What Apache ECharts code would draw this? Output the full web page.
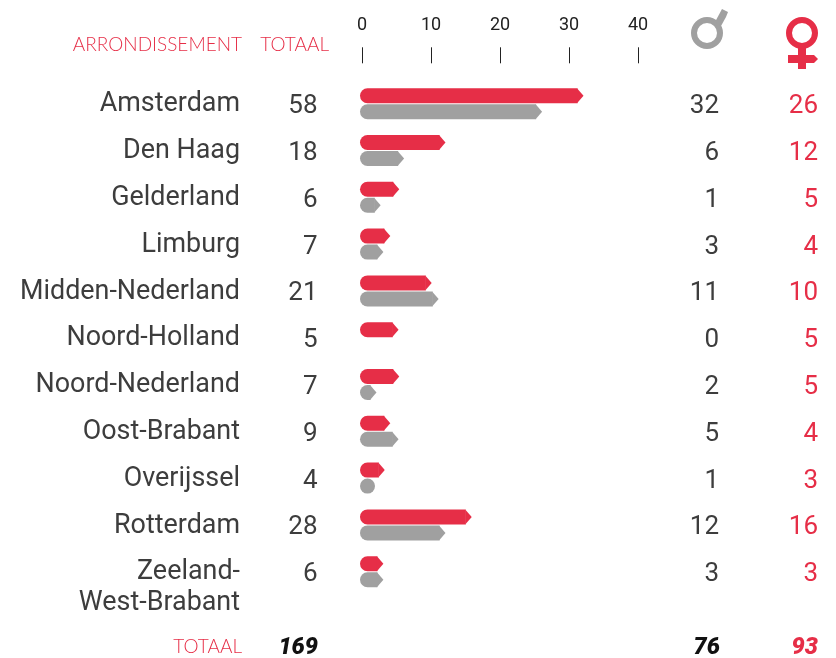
<!DOCTYPE html>
<html>
<head>
<meta charset="utf-8">
<style>html,body{margin:0;padding:0;background:#fff}#chart{width:836px;height:658px}</style>
<script src="https://cdn.jsdelivr.net/npm/echarts@6/dist/echarts.min.js"></script>
</head>
<body>
<div id="chart"></div>
<script>
const districts = ['Amsterdam', 'Den Haag', 'Gelderland', 'Limburg', 'Midden-Nederland', 'Noord-Holland',
  'Noord-Nederland', 'Oost-Brabant', 'Overijssel', 'Rotterdam', 'Zeeland-\nWest-Brabant'];
const totals = [58, 18, 6, 7, 21, 5, 7, 9, 4, 28, 6];
const men = [32, 6, 1, 3, 11, 0, 2, 5, 1, 12, 3];
const women = [26, 12, 5, 4, 10, 5, 5, 4, 3, 16, 3];
// bar lengths as drawn in the picture (Amsterdam is swapped there, small bars read long)
const redBars = [32, 12, 5.3, 4, 10, 5.2, 5.3, 4, 3.2, 15.8, 3];
const grayBars = [26, 6, 2.6, 3, 11, 0, 2, 5.2, 1.9, 12, 3];
const xTicks = [0, 10, 20, 30, 40];
const totalRow = {label: 'TOTAAL', total: 169, men: 76, women: 93};

const RED = '#e62e47';
const GRAY = '#a0a0a0';
const TEXT = '#3d3d3d';
const FONT = 'Roboto';

let chart = echarts.init(document.getElementById('chart'), null, {renderer: 'canvas'});

function arrowBar(values, color, side) {
  return {
    type: 'custom',
    xAxisIndex: 0,
    yAxisIndex: 0,
    silent: true,
    data: values.map((v, i) => [v, i]),
    renderItem(params, api) {
      let v = api.value(0);
      if (!v) return null;
      let tip = api.coord([v, api.value(1)]);
      let start = api.coord([0, api.value(1)])[0] - 2;
      let h = 15;
      let top = side < 0 ? tip[1] - h - 0.5 : tip[1] + 0.5;
      let tipLen = 6;
      let end = tip[0] + 0.7;
      // too short for an arrow head: the picture draws a plain dot
      if (end - start <= h + 1) {
        return {
          type: 'circle',
          shape: {cx: start + h / 2, cy: top + h / 2, r: h / 2},
          style: {fill: color}
        };
      }
      return {
        type: 'group',
        children: [{
          type: 'rect',
          shape: {x: start, y: top, width: end - tipLen - start, height: h, r: [7.5, 0, 0, 7.5]},
          style: {fill: color}
        }, {
          type: 'polygon',
          shape: {points: [[end - tipLen - 0.5, top], [end, top + h / 2], [end - tipLen - 0.5, top + h]]},
          style: {fill: color}
        }]
      };
    }
  };
}

function columnAxis(data, position, offset, color) {
  return {
    type: 'category',
    gridIndex: 2,
    inverse: true,
    position: position,
    offset: offset,
    data: data.map(String),
    axisLine: {show: false},
    axisTick: {show: false},
    axisLabel: {interval: 0, margin: 0, fontFamily: FONT, fontSize: 26, color: color, align: 'right'}
  };
}

function hiddenX(gridIndex) {
  return {type: 'value', gridIndex: gridIndex, show: false, min: 0, max: 40};
}

function cornerText(text, right, y, opt) {
  return {
    type: 'text',
    style: Object.assign({
      text: text,
      x: right,
      y: y,
      align: 'right',
      verticalAlign: 'middle',
      fill: RED,
      fontFamily: 'Lato',
      fontWeight: 300,
      fontSize: 19
    }, opt || {})
  };
}

const boldNum = {fontFamily: FONT, fontWeight: 900, fontStyle: 'italic', fontSize: 23.5};

chart.setOption({
  animation: false,
  backgroundColor: '#fff',
  // same rows in each grid, the text columns just sit a little lower than the bars
  grid: [
    {left: 362, width: 276, top: 80.3, height: 514.8},
    {left: 362, width: 276, top: 81.3, height: 514.8},
    {left: 362, width: 276, top: 83.3, height: 514.8}
  ],
  xAxis: [{
    type: 'value',
    position: 'top',
    min: xTicks[0],
    max: xTicks[xTicks.length - 1],
    interval: 10,
    offset: 17,
    splitLine: {show: false},
    axisLine: {show: false},
    axisTick: {show: true, length: 16, lineStyle: {color: '#222', width: 1}},
    axisLabel: {margin: 29, fontFamily: FONT, fontSize: 18, color: '#222'}
  }, hiddenX(1), hiddenX(2)],
  yAxis: [
    {
      type: 'category',
      inverse: true,
      data: districts,
      show: false
    },
    {
      type: 'category',
      gridIndex: 1,
      inverse: true,
      position: 'left',
      offset: 122,
      data: districts,
      axisLine: {show: false},
      axisTick: {show: false},
      axisLabel: {
        interval: 0,
        margin: 0,
        fontFamily: FONT,
        fontSize: 26.9,
        lineHeight: 31,
        color: TEXT,
        align: 'right',
        // the two line name starts on the row and runs downwards
        formatter: v => v.indexOf('\n') >= 0 ? '\n' + v : v
      }
    },
    columnAxis(totals, 'left', 44.5, TEXT),
    columnAxis(men, 'right', 81, TEXT),
    columnAxis(women, 'right', 180, RED)
  ],
  series: [arrowBar(redBars, RED, -1), arrowBar(grayBars, GRAY, 1)],
  graphic: [
    cornerText('ARRONDISSEMENT', 242, 45),
    cornerText('TOTAAL', 329, 45),
    cornerText(totalRow.label, 242, 647),
    cornerText(String(totalRow.total), 318, 648, Object.assign({fill: '#111'}, boldNum)),
    cornerText(String(totalRow.men), 720, 648, Object.assign({fill: '#111'}, boldNum)),
    cornerText(String(totalRow.women), 818, 648, Object.assign({fill: RED}, boldNum)),
    // male symbol
    {type: 'ring', shape: {cx: 707, cy: 33, r: 16, r0: 10}, style: {fill: GRAY}},
    {type: 'polygon', shape: {points: [[715, 22], [722, 9], [728, 12], [726, 17], [721, 26]]}, style: {fill: GRAY}},
    // female symbol
    {type: 'ring', shape: {cx: 802, cy: 33, r: 16, r0: 10}, style: {fill: RED}},
    {type: 'rect', shape: {x: 798, y: 47, width: 8, height: 22}, style: {fill: RED}},
    {type: 'polygon', shape: {points: [[788, 55], [814, 55], [818, 59], [814, 63], [788, 63]]}, style: {fill: RED}}
  ]
});
</script>
</body>
</html>
